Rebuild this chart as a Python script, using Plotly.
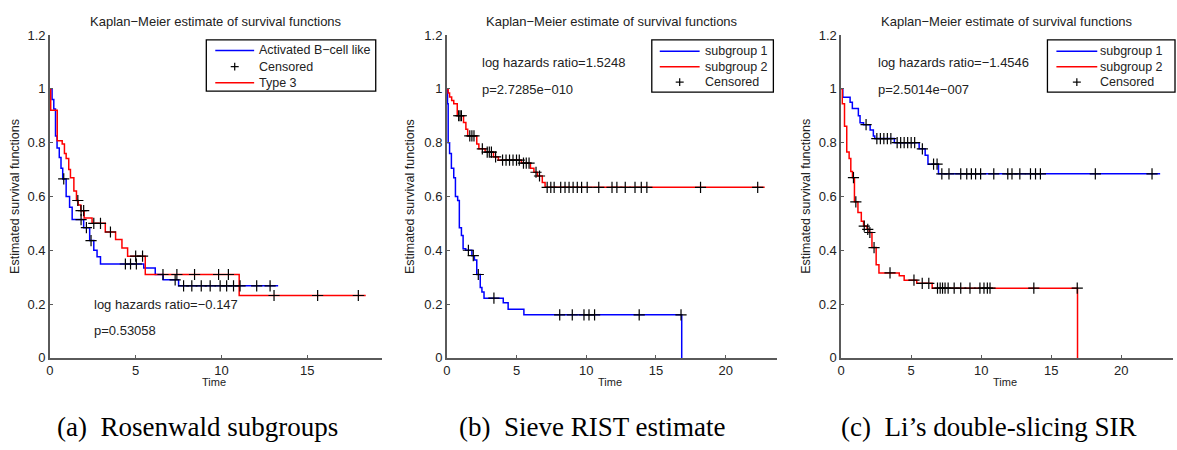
import numpy as np
import plotly.graph_objects as go

W, H = 1177, 450

# ---------------- data ----------------
# Panel (a) Rosenwald subgroups
a_blue_t = [0, 0.13, 0.23, 0.33, 0.42, 0.55, 0.65, 0.75, 0.95, 1.15, 1.3, 1.97, 2.32, 2.56, 2.75, 2.95, 5.47, 6.14, 6.6, 7.5]
a_blue_s = [1.0, 0.96, 0.925, 0.825, 0.78, 0.745, 0.705, 0.665, 0.60, 0.56, 0.514, 0.484, 0.436, 0.40, 0.376, 0.349, 0.334, 0.31, 0.29, 0.268]
a_blue_end = 13.3
a_blue_cens = [0.81, 1.82, 2.13, 2.4, 4.4, 4.7, 5.04, 7.3, 7.79, 8.27, 8.82, 9.34, 9.92, 10.3, 10.7, 11.08, 12.05, 12.83]

a_red_t = [0, 0.05, 0.43, 0.72, 0.85, 0.95, 1.1, 1.2, 1.4, 1.55, 1.65, 1.8, 2.0, 2.46, 3.23, 3.83, 4.2, 4.53, 5.56, 11.03]
a_red_s = [1.0, 0.92, 0.807, 0.795, 0.76, 0.741, 0.70, 0.67, 0.62, 0.585, 0.568, 0.547, 0.52, 0.50, 0.468, 0.44, 0.408, 0.378, 0.31, 0.232]
a_red_end = 18.4
a_red_cens = [1.63, 1.82, 1.97, 2.56, 2.95, 3.53, 5.0, 5.4, 6.59, 7.4, 8.43, 9.83, 10.4, 13.06, 15.6, 17.97]

# Panel (b) Sieve RIST estimate
b_blue_t = [0, 0.05, 0.1, 0.2, 0.33, 0.5, 0.62, 0.78, 0.9, 1.05, 1.17, 1.36, 1.8, 1.98, 2.15, 2.4, 2.52, 2.67, 4.05, 4.4, 5.53, 16.85]
b_blue_s = [1.0, 0.945, 0.80, 0.76, 0.705, 0.67, 0.60, 0.585, 0.484, 0.455, 0.406, 0.40, 0.38, 0.364, 0.31, 0.262, 0.245, 0.222, 0.205, 0.181, 0.16, 0.0]
b_blue_end = 16.85
b_blue_cens = [1.55, 1.9, 2.26, 3.38, 8.1, 9.0, 9.84, 10.2, 10.6, 13.8, 16.8]

b_red_t = [0, 0.1, 0.2, 0.35, 0.5, 0.75, 1.2, 1.37, 1.5, 2.15, 2.3, 2.75, 3.35, 3.7, 5.35, 6.0, 6.25, 6.5, 6.85, 7.05]
b_red_s = [1.0, 0.985, 0.97, 0.957, 0.945, 0.90, 0.875, 0.85, 0.825, 0.795, 0.777, 0.765, 0.747, 0.735, 0.724, 0.705, 0.69, 0.676, 0.652, 0.634]
b_red_end = 22.8
b_red_cens = [0.85, 0.95, 1.05, 1.65, 1.8, 1.95, 2.55, 2.9, 3.05, 3.2, 3.5, 4.0, 4.25, 4.5, 4.75, 5.0, 5.2,
              5.5, 5.7, 5.9, 6.4, 6.65, 7.2, 7.46, 7.7, 8.17, 8.48, 8.77, 9.06, 9.36, 9.67, 10.07, 10.9,
              11.85, 12.2, 12.8, 13.5, 13.95, 14.35, 18.2, 22.3]

# Panel (c) Li's double-slicing SIR
c_blue_t = [0, 0.12, 0.64, 0.8, 1.23, 1.35, 1.6, 2.07, 2.3, 2.4, 3.8, 5.57, 6.0, 6.2, 6.95]
c_blue_s = [1.0, 0.969, 0.95, 0.927, 0.90, 0.874, 0.867, 0.847, 0.825, 0.815, 0.80, 0.777, 0.753, 0.72, 0.684]
c_blue_end = 22.78
c_blue_cens = [1.78, 2.55, 2.8, 3.05, 3.3, 3.55, 4.0, 4.25, 4.5, 4.75, 5.0, 5.25, 5.8, 6.6, 6.85,
               7.19, 7.7, 8.54, 8.97, 9.3, 9.6, 9.96, 10.9, 11.9, 12.2, 12.76, 13.52, 13.88, 14.23, 18.15, 22.2]

c_red_t = [0, 0.08, 0.24, 0.4, 0.57, 0.69, 0.81, 0.95, 1.2, 1.44, 1.6, 1.85, 2.0, 2.2, 2.5, 2.7, 4.15, 4.5, 5.4, 6.5, 16.88]
c_red_s = [1.0, 0.945, 0.861, 0.765, 0.741, 0.693, 0.67, 0.58, 0.54, 0.508, 0.49, 0.478, 0.466, 0.41, 0.346, 0.316, 0.305, 0.289, 0.277, 0.259, 0.0]
c_red_end = 16.88
c_red_cens = [0.88, 1.05, 1.65, 1.9, 2.05, 2.35, 3.49, 5.2, 5.79, 6.26, 6.88, 7.07, 7.24, 7.42, 7.64, 8.07,
              8.54, 9.2, 9.91, 10.2, 10.44, 10.63, 13.76, 16.86]

titles = ["Kaplan\u2212Meier estimate of survival functions"] * 3
legend_labels = [
    ["Activated B\u2212cell like", "Censored", "Type 3"],
    ["subgroup 1", "subgroup 2", "Censored"],
    ["subgroup 1", "subgroup 2", "Censored"],
]
stats_text = [
    ["log hazards ratio=\u22120.147", "p=0.53058"],
    ["log hazards ratio=1.5248", "p=2.7285e\u2212010"],
    ["log hazards ratio=\u22121.4546", "p=2.5014e\u2212007"],
]
captions = ["(a)  Rosenwald subgroups", "(b)  Sieve RIST estimate", "(c)  Li\u2019s double-slicing SIR"]
y_ticks = [0, 0.2, 0.4, 0.6, 0.8, 1.0, 1.2]
y_tick_text = ["0", "0.2", "0.4", "0.6", "0.8", "1", "1.2"]
x_ticks = [[0, 5, 10, 15], [0, 5, 10, 15, 20], [0, 5, 10, 15, 20]]
x_max = [19.35, 23.71, 23.72]

# ---------------- layout geometry (pixels) ----------------
ax_left = [46, 444.3, 840]
ax_right = [379.3, 776, 1173.3]
ax_top, ax_bottom = 29, 363

def px(x):
    return x / W

def py(y):
    return 1 - y / H

def step_at(ts, ss, c):
    i = int(np.searchsorted(np.asarray(ts), c, side="right")) - 1
    return ss[i]

BLUE = "#0000ff"
RED = "#ff0000"
AXC = "#5a5a5a"
TXT = "#222222"
FONT = "Liberation Sans, Arial, Helvetica, sans-serif"

fig = go.Figure()

panels = [
    [(a_blue_t, a_blue_s, a_blue_end, a_blue_cens, BLUE), (a_red_t, a_red_s, a_red_end, a_red_cens, RED)],
    [(b_blue_t, b_blue_s, b_blue_end, b_blue_cens, BLUE), (b_red_t, b_red_s, b_red_end, b_red_cens, RED)],
    [(c_blue_t, c_blue_s, c_blue_end, c_blue_cens, BLUE), (c_red_t, c_red_s, c_red_end, c_red_cens, RED)],
]

for k, curves in enumerate(panels):
    xa = "x" if k == 0 else f"x{k+1}"
    ya = "y" if k == 0 else f"y{k+1}"
    for (t, s, end, cens, col) in curves:
        fig.add_trace(go.Scatter(
            x=list(t) + [end], y=list(s) + [s[-1]], mode="lines",
            line=dict(color=col, width=1.5, shape="hv"),
            xaxis=xa, yaxis=ya, showlegend=False, hoverinfo="skip"))
    for (t, s, end, cens, col) in curves:
        fig.add_trace(go.Scatter(
            x=cens, y=[step_at(t, s, c) for c in cens], mode="markers",
            marker=dict(symbol="cross-thin", size=8, line=dict(color="black", width=1.2)),
            xaxis=xa, yaxis=ya, showlegend=False, hoverinfo="skip"))

layout = dict(
    width=W, height=H, margin=dict(l=0, r=0, t=0, b=0),
    paper_bgcolor="white", plot_bgcolor="white",
    font=dict(family=FONT, size=13, color=TXT),
    showlegend=False,
)
for k in range(3):
    xk = "xaxis" if k == 0 else f"xaxis{k+1}"
    yk = "yaxis" if k == 0 else f"yaxis{k+1}"
    xa = "x" if k == 0 else f"x{k+1}"
    ya = "y" if k == 0 else f"y{k+1}"
    layout[xk] = dict(
        domain=[px(ax_left[k]), px(ax_right[k])], range=[0, x_max[k]], anchor=ya,
        showline=True, linecolor=AXC, linewidth=1.5, ticks="inside", ticklen=3,
        tickcolor=AXC, tickwidth=1, tickvals=x_ticks[k], showgrid=False, zeroline=False,
        tickfont=dict(size=13, color=TXT, family=FONT))
    layout[yk] = dict(
        domain=[py(ax_bottom), py(ax_top)], range=[0, 1.2], anchor=xa,
        showline=True, linecolor=AXC, linewidth=1.5, ticks="inside", ticklen=3,
        tickcolor=AXC, tickwidth=1, tickvals=y_ticks, ticktext=y_tick_text,
        showgrid=False, zeroline=False, tickfont=dict(size=13, color=TXT, family=FONT))
fig.update_layout(**layout)

ann = []
shapes = []

# titles, axis labels, stats, captions
caption_cx = [194, 590, 988]
ylab_x = [11.5, 408, 805]
stats_x = [[88.5, 88.5], [477.5, 477.5], [875, 875]]
stats_y = [[307.7, 335], [57.3, 85], [57.3, 85]]
for k in range(3):
    cx = (ax_left[k] + ax_right[k]) / 2
    ann.append(dict(x=px(cx), y=py(14.7), xref="paper", yref="paper", text=titles[k],
                    showarrow=False, xanchor="center", yanchor="middle",
                    font=dict(size=13, color=TXT, family=FONT)))
    ann.append(dict(x=px(cx - 2), y=py(388), xref="paper", yref="paper", text="Time",
                    showarrow=False, xanchor="center", yanchor="middle",
                    font=dict(size=11, color=TXT, family=FONT)))
    ann.append(dict(x=px(ylab_x[k]), y=py((ax_top + ax_bottom) / 2), xref="paper", yref="paper",
                    text="Estimated survival functions", textangle=-90,
                    showarrow=False, xanchor="center", yanchor="middle",
                    font=dict(size=12.5, color=TXT, family=FONT)))
    for j in range(2):
        ann.append(dict(x=px(stats_x[k][j]), y=py(stats_y[k][j]), xref="paper", yref="paper",
                        text=stats_text[k][j], showarrow=False, xanchor="left", yanchor="middle",
                        font=dict(size=13, color=TXT, family=FONT)))
    ann.append(dict(x=px(caption_cx[k]), y=py(434), xref="paper", yref="paper", text=captions[k],
                    showarrow=False, xanchor="center", yanchor="middle",
                    font=dict(size=27, color="black", family="Liberation Serif, Times New Roman, serif")))

# legends (boxes drawn manually to match the MATLAB legend layout)
leg_box = [(203, 34, 373, 87), (650, 34, 772, 88), (1047, 34, 1175, 88)]
leg_line = [(212, 251), (658, 698), (1056, 1097)]
leg_text_x = [254, 701, 1098]
leg_rows = [[45, 61.7, 78.3], [45.7, 61.7, 77.7], [45.7, 61.7, 77.7]]
leg_kind = [[BLUE, "cens", RED], [BLUE, RED, "cens"], [BLUE, RED, "cens"]]
for k in range(3):
    x0, y0, x1, y1 = leg_box[k]
    shapes.append(dict(type="rect", xref="paper", yref="paper", x0=px(x0), x1=px(x1),
                       y0=py(y1), y1=py(y0), line=dict(color="black", width=1.3), fillcolor="white",
                       layer="above"))
    lx0, lx1 = leg_line[k]
    for r in range(3):
        yy = leg_rows[k][r]
        kind = leg_kind[k][r]
        if kind == "cens":
            cx = (lx0 + lx1) / 2
            shapes.append(dict(type="line", xref="paper", yref="paper", x0=px(cx - 4), x1=px(cx + 4),
                               y0=py(yy), y1=py(yy), line=dict(color="black", width=1.2), layer="above"))
            shapes.append(dict(type="line", xref="paper", yref="paper", x0=px(cx), x1=px(cx),
                               y0=py(yy - 4), y1=py(yy + 4), line=dict(color="black", width=1.2), layer="above"))
        else:
            shapes.append(dict(type="line", xref="paper", yref="paper", x0=px(lx0), x1=px(lx1),
                               y0=py(yy), y1=py(yy), line=dict(color=kind, width=1.5), layer="above"))
        ann.append(dict(x=px(leg_text_x[k]), y=py(yy), xref="paper", yref="paper",
                        text=legend_labels[k][r], showarrow=False, xanchor="left", yanchor="middle",
                        font=dict(size=12.5, color=TXT, family=FONT)))

fig.update_layout(annotations=ann, shapes=shapes)
fig.write_html("out.html")
